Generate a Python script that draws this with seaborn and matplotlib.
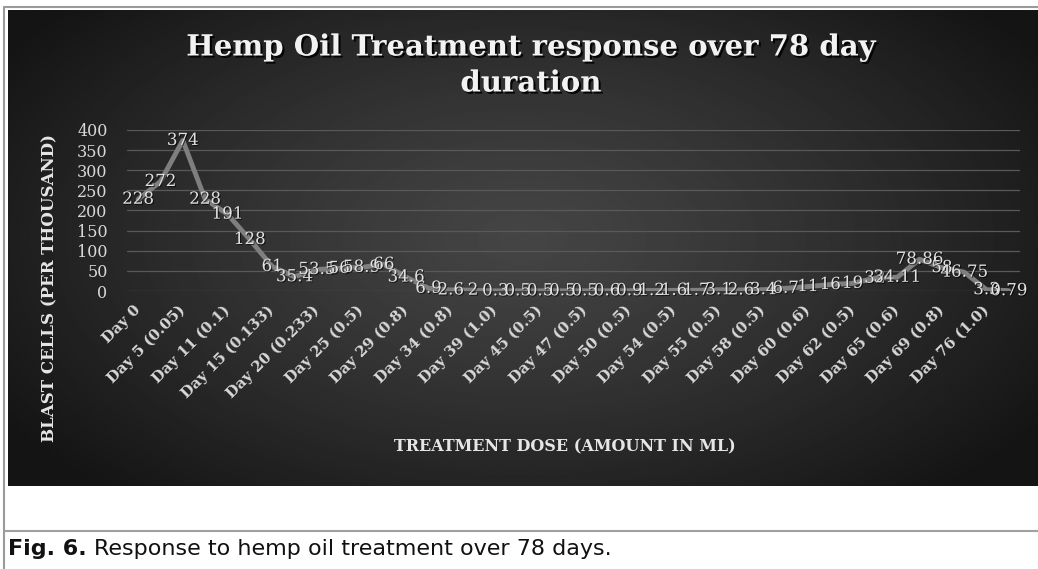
import numpy as np
import pandas as pd
import seaborn as sns
import matplotlib.pyplot as plt
import matplotlib.patheffects as pe
from matplotlib.lines import Line2D

# tick labels (every second category is labelled on the chart)
shown_labels = ["Day 0", "Day 5 (0.05)", "Day 11 (0.1)", "Day 15 (0.133)", "Day 20 (0.233)",
                "Day 25 (0.5)", "Day 29 (0.8)", "Day 34 (0.8)", "Day 39 (1.0)", "Day 45 (0.5)",
                "Day 47 (0.5)", "Day 50 (0.5)", "Day 54 (0.5)", "Day 55 (0.5)", "Day 58 (0.5)",
                "Day 60 (0.6)", "Day 62 (0.5)", "Day 65 (0.6)", "Day 69 (0.8)", "Day 76 (1.0)"]

# blast cells per thousand, one per reading
blast_cells = [228, 272, 374, 228, 191, 128, 61, 35.4, 53.5, 56,
               58.9, 66, 34.6, 6.9, 2.6, 2, 0.3, 0.5, 0.5, 0.5,
               0.5, 0.6, 0.9, 1.2, 1.6, 1.7, 3.1, 2.6, 3.4, 6.7,
               11, 16, 19, 32, 34.11, 78.86, 58, 46.75, 3.3, 0.79]

df = pd.DataFrame({"reading": np.arange(len(blast_cells)), "blast": blast_cells})

sns.set_theme(style="white")
plt.rcParams['font.family'] = ['DejaVu Serif']

W, H = 1038, 569
fig = plt.figure(figsize=(W / 100, H / 100), dpi=100)
fig.patch.set_facecolor("white")

# dark panel with radial gradient
bg = fig.add_axes([8 / W, (H - 486) / H, 1030 / W, 476 / H])
yy, xx = np.mgrid[0:1:300j, 0:1:600j]
r = np.sqrt(((xx - 0.5) / 0.6) ** 2 + ((yy - 0.48) / 0.72) ** 2)
r = np.clip(r, 0, 1)
grad = 0.27 - 0.19 * r ** 1.2
bg.imshow(grad, cmap="gray", vmin=0, vmax=1, aspect="auto", extent=[0, 1, 0, 1])
bg.axis("off")

# frame lines
fig.add_artist(Line2D([4 / W, 1], [1 - 7 / H, 1 - 7 / H], color="#9a9a9a", lw=1.5))
fig.add_artist(Line2D([4 / W, 4 / W], [0, 1 - 7 / H], color="#9a9a9a", lw=1.5))
fig.add_artist(Line2D([4 / W, 1], [1 - 531 / H, 1 - 531 / H], color="#a0a0a0", lw=1.5))

ax = fig.add_axes([127 / W, (H - 291) / H, 893 / W, 161 / H])
ax.set_facecolor("none")
sns.lineplot(data=df, x="reading", y="blast", ax=ax, color="#7f7f7f", lw=3.5)

ax.set_ylim(0, 400)
ax.set_xlim(-0.5, len(blast_cells) - 0.5)
ax.set_yticks(np.arange(0, 401, 50))
ax.grid(axis="y", color="#595959", lw=0.9)
ax.grid(axis="x", visible=False)
for s in ax.spines.values():
    s.set_visible(False)

ax.set_xticks(np.arange(0, len(blast_cells), 2))
ax.set_xticklabels(shown_labels, rotation=45, ha="right", va="center",
                   rotation_mode="anchor", fontsize=10.8, fontweight="bold", color="#d8d8d8")
ax.tick_params(axis="x", length=0, pad=12)
ax.tick_params(axis="y", length=0, pad=14, labelsize=11.5, labelcolor="#d8d8d8")
ax.set_xlabel("")
ax.set_ylabel("")

for i, v in enumerate(blast_cells):
    ax.text(i, v, "{:g}".format(v), ha="center", va="center", fontsize=12,
            color="#e2e2e2", zorder=5,
            path_effects=[pe.withSimplePatchShadow(offset=(0.8, -0.8), shadow_rgbFace="black", alpha=0.6)])

shadow = [pe.withSimplePatchShadow(offset=(1.5, -1.5), shadow_rgbFace="black", alpha=0.9)]
fig.text(531 / W, 1 - 47 / H, "Hemp Oil Treatment response over 78 day", ha="center", va="center",
         fontsize=21, fontweight="bold", color="#f2f2f2", path_effects=shadow)
fig.text(531 / W, 1 - 83 / H, "duration", ha="center", va="center",
         fontsize=21, fontweight="bold", color="#f2f2f2", path_effects=shadow)

fig.text(50 / W, 1 - 288 / H, "BLAST CELLS (PER THOUSAND)", rotation=90, ha="center", va="center",
         fontsize=12, fontweight="bold", color="#e6e6e6")
fig.text(565 / W, 1 - 447 / H, "TREATMENT DOSE (AMOUNT IN ML)", ha="center", va="center",
         fontsize=11.5, fontweight="bold", color="#e6e6e6")

# caption below the panel
cap = fig.text(8 / W, 1 - 549 / H, "Fig. 6.", ha="left", va="center", fontsize=16,
               fontweight="bold", family="DejaVu Sans", color="#111111")
fig.canvas.draw()
bb = cap.get_window_extent()
fig.text(bb.x1 / W + 7 / W, 1 - 549 / H, "Response to hemp oil treatment over 78 days.",
         ha="left", va="center", fontsize=16, family="DejaVu Sans", color="#111111")

fig.savefig("out.png", dpi=100)
